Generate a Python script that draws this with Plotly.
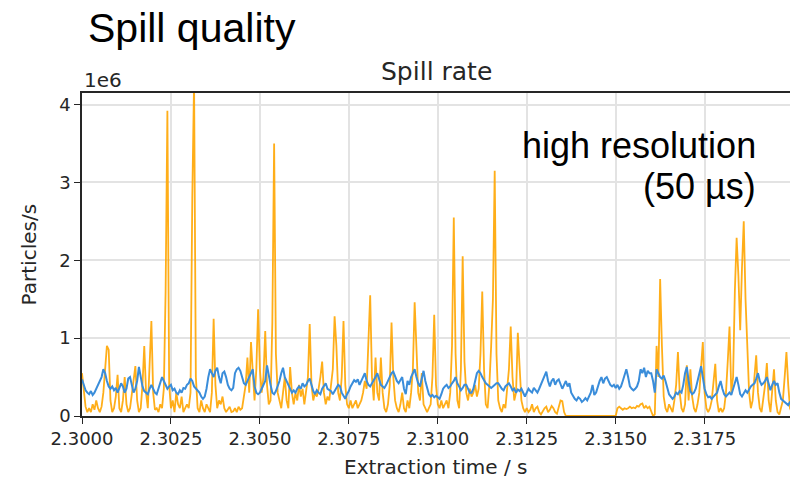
import numpy as np
import plotly.graph_objects as go

# Sampling of the spill-rate signal (50 us bins starting at t0)
t0 = 2.3
dt = 50e-6

# Spill rate, units of 1e6 particles/s, one row per millisecond (20 bins)
rate_orange_e6 = [
    0.55, 0.3, 0.12, 0.05, 0.1, 0.05, 0.15, 0.08, 0.2, 0.1, 0.05, 0.12, 0.3, 0.6, 0.9, 0.85, 0.2, 0.05, 0.1, 0.25,
    0.53, 0.1, 0.05, 0.2, 0.5, 0.15, 0.05, 0.1, 0.3, 0.45, 0.64, 0.2, 0.05, 0.1, 0.4, 0.9, 0.3, 0.1, 0.6, 1.22,
    0.3, 0.08, 0.1, 0.05, 0.15, 0.1, 0.35, 1.6, 3.92, 0.4, 0.1, 0.2, 0.05, 0.3, 0.15, 0.1, 0.25, 0.05, 0.1, 0.15,
    0.1, 0.3, 2.8, 4.3, 0.5, 0.1, 0.05, 0.2, 0.1, 0.05, 0.15, 0.1, 0.05, 0.3, 1.25, 0.4, 0.1, 0.2, 0.15, 0.25,
    0.1, 0.05, 0.08, 0.12, 0.05, 0.06, 0.1, 0.05, 0.12, 0.08, 0.1, 0.25, 0.4, 0.75, 0.3, 0.95, 0.5, 0.2, 0.6, 1.37,
    0.6, 0.3, 0.5, 1.09, 0.4, 0.15, 0.2, 1.2, 3.5, 0.8, 0.3, 0.2, 0.1, 0.3, 0.5, 0.2, 0.1, 0.63, 0.3, 0.15,
    0.3, 0.2, 0.4, 0.25, 0.35, 0.15, 0.3, 0.5, 1.18, 0.4, 0.2, 0.3, 0.25, 0.35, 0.5, 0.7, 0.3, 0.15, 0.25, 0.2,
    0.4, 0.6, 1.28, 0.9, 0.3, 0.2, 0.5, 1.22, 0.4, 0.15, 0.1, 0.2, 0.1, 0.15, 0.2, 0.1, 0.15, 0.2, 0.3, 0.45,
    0.35, 0.9, 1.55, 0.5, 0.2, 0.75, 0.3, 0.2, 0.75, 0.3, 0.1, 0.05, 0.15, 0.4, 1.2, 0.5, 0.2, 0.1, 0.05, 0.15,
    0.3, 0.1, 0.05, 0.2, 0.1, 0.3, 0.6, 1.46, 0.9, 0.3, 0.2, 0.55, 0.15, 0.1, 0.05, 0.1, 0.15, 0.5, 1.3, 0.4,
    0.15, 0.1, 0.2, 0.1, 0.15, 0.2, 0.1, 0.3, 0.9, 2.55, 0.8, 0.2, 0.1, 0.6, 2.05, 0.7, 0.3, 0.2, 0.35, 0.25,
    0.3, 0.4, 0.25, 0.35, 0.8, 1.6, 0.6, 0.15, 0.1, 0.4, 0.9, 1.5, 3.15, 0.8, 0.2, 0.1, 0.05, 0.15, 0.1, 0.4,
    0.6, 1.15, 0.5, 0.2, 0.3, 1.07, 0.6, 0.2, 0.1, 0.05, 0.1, 0.05, 0.08, 0.15, 0.05, 0.1, 0.12, 0.05, 0.02, 0.06,
    0.1, 0.12, 0.05, 0.08, 0.13, 0.1, 0.05, 0.03, 0.1, 0.2, 0.19, 0.05, 0, 0, 0, 0, 0, 0, 0, 0,
    0, 0, 0, 0, 0, 0, 0, 0, 0, 0, 0, 0, 0, 0, 0, 0, 0, 0, 0, 0,
    0, 0.1, 0.12, 0.1, 0.08, 0.1, 0.09, 0.1, 0.12, 0.1, 0.11, 0.1, 0.13, 0.12, 0.15, 0.16, 0.1, 0.13, 0.1, 0.12,
    0.05, 0, 0.02, 0.9, 0.5, 1.76, 0.9, 0.25, 0.1, 0.05, 0.15, 0.1, 0.05, 0.2, 0.4, 0.82, 0.3, 0.1, 0.05, 0.15,
    0.65, 0.2, 0.6, 0.25, 0.1, 0.05, 0.15, 0.3, 0.6, 0.95, 0.3, 0.1, 0.05, 0.1, 0.2, 0.4, 0.67, 0.2, 0.05, 0.1,
    0.05, 0.1, 0.3, 0.7, 1.15, 0.3, 0.5, 1.6, 2.29, 1.8, 1.1, 1.9, 2.5, 1.5, 0.95, 0.3, 0.1, 0.2, 0.5, 0.78,
    0.3, 0.1, 0.05, 0.2, 0.4, 0.68, 0.2, 0.05, 0.3, 0.6, 0.2, 0.05, 0.02, 0.1, 0.2, 0.5, 0.82, 0.4, 0.1, 0.05,
]

rate_blue_e6 = [
    0.47, 0.4, 0.33, 0.3, 0.28, 0.32, 0.27, 0.3, 0.35, 0.4, 0.45, 0.5, 0.6, 0.55, 0.45, 0.38, 0.35, 0.38, 0.33, 0.36,
    0.3, 0.35, 0.42, 0.38, 0.3, 0.35, 0.48, 0.5, 0.4, 0.3, 0.35, 0.45, 0.63, 0.5, 0.38, 0.32, 0.3, 0.28, 0.35, 0.4,
    0.35, 0.3, 0.28, 0.35, 0.42, 0.5, 0.45, 0.4, 0.35, 0.38, 0.4, 0.33, 0.35, 0.3, 0.28, 0.33, 0.3, 0.36, 0.35, 0.4,
    0.42, 0.48, 0.45, 0.38, 0.35, 0.32, 0.3, 0.25, 0.22, 0.25, 0.35, 0.5, 0.6, 0.55, 0.5, 0.58, 0.62, 0.5, 0.42, 0.55,
    0.57, 0.5, 0.4, 0.35, 0.33, 0.36, 0.55, 0.6, 0.62, 0.58, 0.5, 0.42, 0.4, 0.45, 0.5, 0.55, 0.6, 0.38, 0.3, 0.28,
    0.3, 0.35, 0.4, 0.45, 0.65, 0.5, 0.4, 0.3, 0.28, 0.32, 0.38, 0.45, 0.55, 0.62, 0.5, 0.45, 0.4, 0.35, 0.3, 0.33,
    0.3, 0.35, 0.38, 0.35, 0.42, 0.38, 0.4, 0.45, 0.48, 0.4, 0.32, 0.28, 0.33, 0.3, 0.28, 0.35, 0.38, 0.42, 0.35, 0.33,
    0.32, 0.28, 0.33, 0.36, 0.4, 0.38, 0.3, 0.25, 0.22, 0.28, 0.32, 0.38, 0.42, 0.46, 0.44, 0.47, 0.4, 0.45, 0.5, 0.55,
    0.45, 0.4, 0.38, 0.42, 0.45, 0.5, 0.55, 0.48, 0.4, 0.38, 0.36, 0.4, 0.45, 0.5, 0.55, 0.57, 0.5, 0.45, 0.42, 0.46,
    0.5, 0.35, 0.28, 0.45, 0.4, 0.5, 0.55, 0.6, 0.5, 0.42, 0.38, 0.48, 0.58, 0.45, 0.35, 0.28, 0.25, 0.27, 0.24, 0.26,
    0.24, 0.22, 0.28, 0.35, 0.38, 0.4, 0.36, 0.38, 0.42, 0.45, 0.5, 0.42, 0.38, 0.33, 0.36, 0.4, 0.4, 0.35, 0.3, 0.3,
    0.35, 0.45, 0.55, 0.58, 0.55, 0.5, 0.45, 0.42, 0.4, 0.38, 0.36, 0.38, 0.4, 0.42, 0.42, 0.38, 0.35, 0.33, 0.38, 0.4,
    0.42, 0.38, 0.33, 0.35, 0.3, 0.34, 0.32, 0.35, 0.3, 0.25, 0.3, 0.35, 0.32, 0.3, 0.36, 0.33, 0.3, 0.35, 0.4, 0.45,
    0.52, 0.57, 0.45, 0.38, 0.45, 0.48, 0.4, 0.45, 0.47, 0.42, 0.35, 0.4, 0.45, 0.38, 0.42, 0.3, 0.25, 0.22, 0.2, 0.24,
    0.22, 0.18, 0.2, 0.23, 0.2, 0.25, 0.3, 0.4, 0.27, 0.3, 0.38, 0.45, 0.5, 0.42, 0.48, 0.5, 0.45, 0.4, 0.38, 0.4,
    0.36, 0.4, 0.35, 0.38, 0.45, 0.52, 0.6, 0.5, 0.38, 0.35, 0.33, 0.35, 0.38, 0.45, 0.6, 0.55, 0.62, 0.5, 0.58, 0.55,
    0.55, 0.45, 0.3, 0.6, 0.55, 0.5, 0.48, 0.52, 0.45, 0.35, 0.28, 0.25, 0.22, 0.25, 0.3, 0.28, 0.32, 0.3, 0.4, 0.55,
    0.63, 0.45, 0.32, 0.28, 0.3, 0.35, 0.45, 0.55, 0.64, 0.5, 0.35, 0.28, 0.24, 0.25, 0.22, 0.25, 0.27, 0.3, 0.38, 0.45,
    0.35, 0.28, 0.25, 0.28, 0.3, 0.27, 0.35, 0.45, 0.5, 0.4, 0.28, 0.25, 0.3, 0.33, 0.3, 0.35, 0.38, 0.4, 0.42, 0.48,
    0.55, 0.45, 0.4, 0.42, 0.45, 0.5, 0.42, 0.33, 0.4, 0.45, 0.4, 0.42, 0.3, 0.22, 0.2, 0.18, 0.15, 0.14, 0.18, 0.2,
]

x_tick_vals = [2.3, 2.3025, 2.305, 2.3075, 2.31, 2.3125, 2.315, 2.3175]
x_tick_text = ["2.3000", "2.3025", "2.3050", "2.3075", "2.3100", "2.3125", "2.3150", "2.3175"]
y_tick_vals_e6 = [0, 1, 2, 3, 4]
y_tick_text = ["0", "1", "2", "3", "4"]

t = t0 + np.arange(len(rate_orange_e6)) * dt
y_orange = np.array(rate_orange_e6) * 1e6
y_blue = np.array(rate_blue_e6) * 1e6

TICK_FONT = dict(family="DejaVu Sans", size=18, color="#262626")
LABEL_FONT = dict(family="DejaVu Sans", size=20, color="#262626")

fig = go.Figure()
fig.add_trace(go.Scatter(x=t, y=y_orange, mode="lines", name="Spill rate A",
                         line=dict(color="rgba(255,165,0,0.9)", width=1.8)))
fig.add_trace(go.Scatter(x=t, y=y_blue, mode="lines", name="Spill rate B",
                         line=dict(color="rgb(58,141,218)", width=2.0)))

fig.update_layout(
    width=790, height=479,
    margin=dict(l=82, r=0, t=93, b=63),
    paper_bgcolor="white", plot_bgcolor="white",
    showlegend=False,
    xaxis=dict(
        range=[2.3, 2.3199], tickmode="array",
        tickvals=x_tick_vals, ticktext=x_tick_text,
        showgrid=True, gridcolor="#e3e3e3", gridwidth=1.6,
        showline=True, linecolor="#262626", linewidth=1.6, mirror=True,
        ticks="outside", ticklen=6, tickwidth=1.4, tickcolor="#262626",
        tickfont=TICK_FONT, zeroline=False,
    ),
    yaxis=dict(
        range=[0, 4.148e6], tickmode="array",
        tickvals=[v * 1e6 for v in y_tick_vals_e6], ticktext=y_tick_text,
        showgrid=True, gridcolor="#e3e3e3", gridwidth=1.6,
        showline=True, linecolor="#262626", linewidth=1.6, mirror=False,
        ticks="outside", ticklen=6, tickwidth=1.4, tickcolor="#262626",
        tickfont=TICK_FONT, zeroline=False,
    ),
    annotations=[
        dict(text="Spill quality", xref="paper", yref="paper", x=0.006, y=1.20,
             xanchor="left", yanchor="middle", showarrow=False,
             font=dict(family="Liberation Sans", size=41, color="black")),
        dict(text="Spill rate", xref="paper", yref="paper", x=0.5, y=1.066,
             xanchor="center", yanchor="middle", showarrow=False,
             font=dict(family="DejaVu Sans", size=25, color="#262626")),
        dict(text="1e6", xref="paper", yref="paper", x=0.0, y=1.04,
             xanchor="left", yanchor="middle", showarrow=False,
             font=LABEL_FONT),
        dict(text="Particles/s", xref="paper", yref="paper", x=-0.075, y=0.5,
             xanchor="center", yanchor="middle", textangle=-90, showarrow=False,
             font=LABEL_FONT),
        dict(text="Extraction time / s", xref="paper", yref="paper", x=0.5, y=-0.158,
             xanchor="center", yanchor="middle", showarrow=False,
             font=LABEL_FONT),
        dict(text="high resolution", xref="paper", yref="paper", x=0.955, y=0.839,
             xanchor="right", yanchor="middle", showarrow=False,
             font=dict(family="Liberation Sans", size=36, color="black")),
        dict(text="(50 µs)", xref="paper", yref="paper", x=0.955, y=0.712,
             xanchor="right", yanchor="middle", showarrow=False,
             font=dict(family="Liberation Sans", size=36, color="black")),
    ],
)

fig.write_html("out.html")
